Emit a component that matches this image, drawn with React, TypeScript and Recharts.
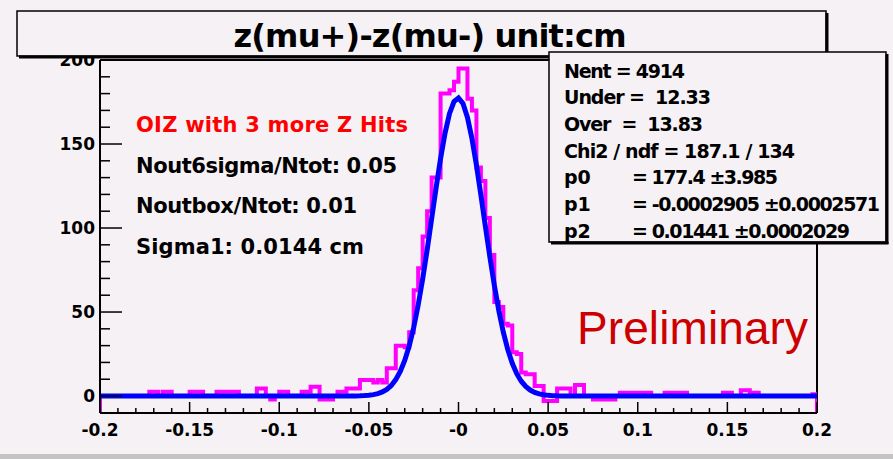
import React from "react";
import { ComposedChart, Line, XAxis, YAxis, ReferenceLine } from "recharts";

// ---------- data ----------
const X_MIN = -0.2;
const X_MAX = 0.2;
const BIN_W = 0.0025;
const Y_MIN = -10.1;
const Y_MAX = 200;

// histogram bin contents, 160 bins of width 0.0025 from -0.2
const histCounts: number[] = [
  0, 0, 0, 0, 0, 0, 0, 0, 0, 0,
  0, 2.5, 2.5, 0, 2.5, 2.5, 0, 0, 0, 0,
  2.5, 2.5, 2.5, 0, 0, 0, 2.5, 2.5, 2.5, 2.5,
  2.5, 0, 0, 0, 0, 4.5, 4.5, 0, -2, 0,
  2.5, 2.5, 0, 0, 0, 2.5, 2.5, 5.5, 5.5, -2,
  -2, -2, 0, 2.5, 2.5, 4.5, 4.5, 4.5, 9.5, 9.5,
  9.5, 8, 9.5, 8, 16.5, 16.5, 30, 30, 29, 38,
  63, 76, 95, 110, 130, 130, 180, 180, 182, 187,
  195, 195, 177, 170, 136, 128, 106, 84, 56, 53,
  43, 42, 26, 25, 14, 13, 13, 6, 6, -3,
  -3, -3, 4.5, 4.5, 4.5, 0, 6.5, 6.5, 0, 0,
  -2, -2, -2, -2, -2, 0, 2, 2, 2, 2,
  2, 2, 2, 0, 0, 0, 2, 2, 2, 2,
  2, 0, 0, 0, 0, 0, 0, 0, 0, 2,
  2, 0, 0, 3.5, 3.5, 2, 2, 0, 0, 0,
  0, 0, 0, 0, 0, 0, 0, 0, 0, 1,
];

// fit curve values, on a 0.0025 grid from -0.06 to 0.06
const FIT_START = -0.06;
const FIT_STEP = 0.0025;
const fitValues: number[] = [
  0.03, 0.07, 0.13, 0.25, 0.46, 0.83, 1.44, 2.43, 3.98, 6.32, 9.75, 14.6,
  21.2, 29.8, 40.8, 54.1, 69.6, 86.9, 105.4, 123.9, 141.4, 156.5, 168.2, 175.3,
  177.4,
  174.1, 165.8, 153.3, 137.5, 119.6, 101.0, 82.8, 65.8, 50.8, 38.0, 27.6, 19.5,
  13.3, 8.84, 5.69, 3.56, 2.16, 1.27, 0.73, 0.40, 0.22, 0.11, 0.06, 0.03,
];

const xMajorLabels = ["-0.2", "-0.15", "-0.1", "-0.05", "-0", "0.05", "0.1", "0.15", "0.2"];
const yMajorLabels: Record<number, string> = { 0: "0", 50: "50", 100: "100", 150: "150", 200: "200" };

const statsLines = [
  "Nent = 4914",
  "Under =  12.33",
  "Over  =  13.83",
  "Chi2 / ndf = 187.1 / 134",
];
const parNames = ["p0", "p1", "p2"];
const parValues = ["= 177.4 \u00b13.985", "= -0.0002905 \u00b10.0002571", "= 0.01441 \u00b10.0002029"];
const notes = ["OIZ with 3 more Z Hits", "Nout6sigma/Ntot: 0.05", "Noutbox/Ntot: 0.01", "Sigma1: 0.0144 cm"];

// ---------- derived tables ----------
const r6 = (v: number) => Math.round(v * 1e6) / 1e6;
const histPoints = [
  { x: X_MIN, v: Y_MIN },
  ...histCounts.map((c, i) => ({ x: r6(X_MIN + i * BIN_W), v: c })),
  { x: X_MAX, v: histCounts[histCounts.length - 1] },
  { x: X_MAX, v: Y_MIN },
];
const fitPoints = [
  { x: X_MIN, v: 0 },
  ...fitValues.map((f, i) => ({ x: r6(FIT_START + i * FIT_STEP), v: f })),
  { x: X_MAX, v: 0 },
];
const xTicks = Array.from({ length: 41 }, (_, i) => (i - 20) / 100);
const yTicks = Array.from({ length: 22 }, (_, i) => (i - 1) * 10);

const BG = "#f5f1f5";
const BOLD = "'DejaVu Sans', 'Liberation Sans', Arial, sans-serif";

const XTick = (props: any) => {
  const { x, y, payload } = props;
  const k = Math.round(payload.value * 100);
  const major = k % 5 === 0;
  return (
    <g>
      <line x1={x} x2={x} y1={y} y2={y - (major ? 11 : 5)} stroke="#000" strokeWidth={1.5} />
      {major && (
        <text x={x} y={y + 23} textAnchor="middle" fontFamily={BOLD} fontWeight="bold" fontSize={17} fill="#000">
          {xMajorLabels[(k + 20) / 5]}
        </text>
      )}
    </g>
  );
};

const YTick = (props: any) => {
  const { x, y, payload } = props;
  const v = Math.round(payload.value);
  const major = v % 50 === 0;
  return (
    <g>
      <line x1={x} x2={x + (major ? 22 : 10)} y1={y} y2={y} stroke="#000" strokeWidth={1.5} />
      {major && (
        <text x={x - 5} y={y + 6} textAnchor="end" fontFamily={BOLD} fontWeight="bold" fontSize={17} fill="#000">
          {yMajorLabels[v]}
        </text>
      )}
    </g>
  );
};

export default function App() {
  const statBase = 77.5;
  const statStep = 26.7;
  const statWidths = [121, 147, 139, 231];
  const parWidths = [146, 248, 218];
  const noteBase = [132, 172.5, 213, 253.5];
  const noteWidths = [272, 261, 221, 228];
  return (
    <div style={{ position: "absolute", left: 0, top: 0, width: 893, height: 459, background: BG, overflow: "hidden" }}>
      <ComposedChart width={893} height={459} margin={{ top: 60, right: 76, bottom: 6, left: 10 }}>
        <XAxis
          type="number"
          dataKey="x"
          domain={[X_MIN, X_MAX]}
          allowDataOverflow
          ticks={xTicks}
          interval={0}
          tickSize={0}
          tickMargin={0}
          height={40}
          axisLine={{ stroke: "#000", strokeWidth: 2 }}
          tick={(p: any) => <XTick {...p} />}
        />
        <YAxis
          type="number"
          domain={[Y_MIN, Y_MAX]}
          allowDataOverflow
          ticks={yTicks}
          interval={0}
          tickSize={0}
          tickMargin={0}
          width={90}
          axisLine={{ stroke: "#000", strokeWidth: 2 }}
          tick={(p: any) => <YTick {...p} />}
        />
        <ReferenceLine y={Y_MAX} stroke="#000" strokeWidth={2} />
        <ReferenceLine x={X_MAX} stroke="#000" strokeWidth={2} />
        <Line
          data={histPoints}
          dataKey="v"
          type="stepAfter"
          stroke="#ff00ff"
          strokeWidth={4}
          dot={false}
          activeDot={false}
          isAnimationActive={false}
        />
        <Line
          data={fitPoints}
          dataKey="v"
          type="linear"
          stroke="#0000ff"
          strokeWidth={5}
          dot={false}
          activeDot={false}
          isAnimationActive={false}
        />
      </ComposedChart>
      <svg width={893} height={459} style={{ position: "absolute", left: 0, top: 0, pointerEvents: "none" }}>
        {/* title box */}
        <rect x={17} y={11} width={809} height={45} fill={BG} stroke="#000" strokeWidth={1.5} />
        <line x1={827} x2={827} y1={13} y2={58} stroke="#000" strokeWidth={3} />
        <line x1={19} x2={828.5} y1={57} y2={57} stroke="#000" strokeWidth={3} />
        <text x={430} y={47} textAnchor="middle" fontFamily={BOLD} fontWeight="bold" fontSize={32} fill="#000" textLength={393}>
          z(mu+)-z(mu-) unit:cm
        </text>
        {/* stats box */}
        <rect x={549} y={52} width={337} height={190} fill={BG} stroke="#000" strokeWidth={1.5} />
        <line x1={887} x2={887} y1={54} y2={244} stroke="#000" strokeWidth={3} />
        <line x1={551} x2={888.5} y1={243} y2={243} stroke="#000" strokeWidth={3} />
        {statsLines.map((s, i) => (
          <text
            key={s}
            x={564}
            y={statBase + i * statStep}
            fontFamily={BOLD}
            fontWeight="bold"
            fontSize={19}
            fill="#000"
            textLength={statWidths[i]}
            style={{ whiteSpace: "pre" }}
          >
            {s}
          </text>
        ))}
        {parNames.map((n, i) => (
          <g key={n}>
            <text x={564} y={statBase + (i + 4) * statStep} fontFamily={BOLD} fontWeight="bold" fontSize={19} fill="#000">
              {n}
            </text>
            <text
              x={632}
              y={statBase + (i + 4) * statStep}
              fontFamily={BOLD}
              fontWeight="bold"
              fontSize={19}
              fill="#000"
              textLength={parWidths[i]}
            >
              {parValues[i]}
            </text>
          </g>
        ))}
        {/* notes */}
        {notes.map((s, i) => (
          <text
            key={s}
            x={136}
            y={noteBase[i]}
            fontFamily={BOLD}
            fontWeight="bold"
            fontSize={21}
            fill={i === 0 ? "#ff0000" : "#000"}
            textLength={noteWidths[i]}
          >
            {s}
          </text>
        ))}
        <text x={577} y={344} fontFamily="'Liberation Sans', Arial, sans-serif" fontSize={46} fill="#cc0000" textLength={231}>
          Preliminary
        </text>
        <rect x={0} y={454} width={893} height={5} fill="#c4c4c4" />
      </svg>
    </div>
  );
}
